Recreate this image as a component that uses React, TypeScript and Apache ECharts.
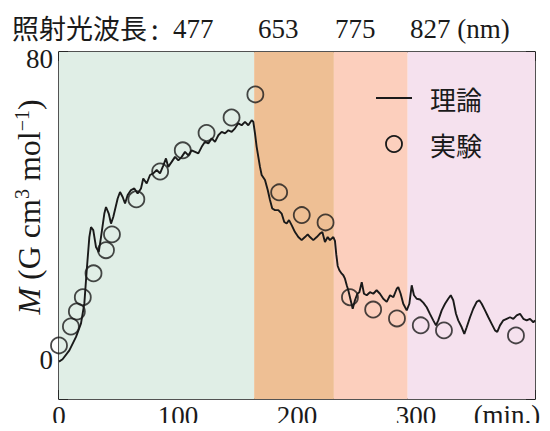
import React, { useEffect, useRef } from "react";
import * as echarts from "echarts";

// Theory curve (time in min., M in G cm^3 mol^-1)
const theoryTime = [
  0, 3, 8.7, 14.3, 18.5, 21.3, 23.3, 25.5, 26.9, 28.8, 31.1, 33.4, 35.3, 38.1, 39.5, 41.8, 43.7, 45.6,
  49.3, 51.3, 53.5, 55.5, 57.7, 60.5, 63.3, 66.1, 68.9, 70.8, 73.7, 76.5, 79.2, 82.1, 84.9, 87.7, 89.9,
  91.8, 94.7, 97.5, 100.3, 103.1, 105.9, 108.7, 111.5, 114.3, 117.1, 119.9, 122.7, 125.5, 128.3, 131.1,
  133.9, 136.7, 139.5, 142.3, 145.1, 147.9, 150.7, 153.5, 156.3, 159.1, 161.9, 163.3, 164.7, 166.1,
  167.5, 168.9, 170.3, 173.1, 175.4, 177.3, 179.2, 181.5, 184.3, 187.1, 189.3, 191.3, 193.3, 195.5,
  198.3, 201.1, 203.9, 206.7, 209.0, 210.9, 213.7, 216.6, 219.3, 221.3, 223.5, 225.8, 227.7, 230.5,
  231.9, 233.0, 234.2, 235.6, 237.6, 238.9, 240.3, 241.8, 243.1, 245.1, 246.8, 248.7, 250.7, 252.4,
  254.4, 256.3, 258.6, 261.3, 264.1, 266.9, 269.7, 272.5, 275.4, 278.2, 281.0, 283.8, 285.1, 287.1,
  289.3, 292.2, 294.4, 296.4, 298.3, 300.6, 303.4, 306.1, 309.0, 311.8, 314.5, 316.8, 318.7, 321.6,
  324.4, 327.1, 329.2, 331.3, 333.6, 335.5, 338.4, 340.6, 342.6, 345.4, 348.1, 351.0, 353.2, 355.2,
  358.0, 360.8, 363.6, 366.4, 368.3, 370.6, 373.4, 376.2, 379.0, 381.8, 384.6, 387.4, 390.2, 393.0,
  395.8, 398.6, 400,
];
const theoryM = [
  -0.3, 0.3, 2.6, 6.1, 9.6, 14.8, 23.4, 32.0, 34.6, 33.8, 29.4, 28.1, 32.0, 38.1, 39.8, 38.1, 35.5, 37.2,
  42.0, 43.7, 42.4, 40.7, 42.9, 44.2, 44.6, 43.3, 44.6, 47.2, 45.9, 48.1, 48.5, 49.4, 48.5, 50.6, 52.4,
  50.2, 51.5, 52.8, 51.9, 52.8, 54.1, 53.2, 54.5, 54.1, 53.7, 55.4, 56.7, 56.3, 57.6, 56.7,
  58.4, 59.3, 58.9, 59.7, 59.3, 60.2, 61.5, 61.0, 61.9, 61.0, 62.3, 61.9, 58.9, 55.4,
  52.8, 50.2, 48.1, 46.8, 44.2, 41.6, 39.4, 39.0, 39.0, 38.1, 35.9, 35.5, 36.4, 35.1,
  33.3, 32.0, 31.2, 32.0, 32.7, 32.0, 31.2, 32.0, 32.9, 33.3, 30.7, 32.0, 31.2, 32.0,
  31.0, 27.5, 24.5, 23.4, 22.5, 22.1, 21.2, 19.5, 18.2, 15.6, 13.4, 15.6, 17.3, 17.7,
  20.3, 17.3, 16.9, 17.7, 17.3, 18.2, 17.3, 16.0, 15.2, 16.9, 16.4, 18.6, 19.0, 17.3,
  14.7, 13.0, 14.7, 19.5, 16.9, 16.0, 15.8, 15.0, 13.8, 12.0, 10.4, 9.1, 10.4, 13.0,
  14.7, 16.0, 16.9, 15.6, 12.1, 10.4, 8.6, 6.9, 8.6, 11.2, 13.4, 15.2, 15.6, 14.7,
  13.0, 11.2, 9.5, 7.8, 7.4, 9.1, 10.4, 10.8, 11.2, 10.8, 11.7, 12.1, 10.8, 10.4,
  10.8, 9.9, 10.4,
];

// Experiment points
const expTime = [0, 10, 15, 20, 29, 39.5, 44.5, 65, 85, 104, 124, 145, 165, 185, 204, 224, 244.5, 264, 284, 304, 323.5, 384];
const expM = [3.9, 8.8, 12.7, 16.4, 22.6, 28.6, 32.7, 41.8, 49, 54.5, 59, 63, 69, 43.6, 37.7, 35.8, 16.4, 13.2, 10.9, 9.1, 7.8, 6.5];

// Irradiation wavelength bands (start, end in min.)
const bandStarts = [0, 164, 231, 293];
const bandEnds = [164, 231, 293, 400];
const bandWavelengths = ["477", "653", "775", "827 (nm)"];
const bandColors = ["#e0eee6", "#eebf94", "#fccfbd", "#f5e1ee"];

const xTickLabels = ["0", "100", "200", "300"];
const yTickLabels = ["0", "80"];

const INK = "#1a1a1a";
const SERIF = "Liberation Serif";
const CJK = "Noto Sans CJK JP";

export default function App() {
  const ref = useRef<HTMLDivElement>(null);

  useEffect(() => {
    if (!ref.current) return;
    const chart = echarts.init(ref.current, null, { renderer: "svg" });

    const tickLine = { color: INK, width: 1.5 };
    const theory = theoryTime.map((t, i) => [t, theoryM[i]]);
    const exp = expTime.map((t, i) => [t, expM[i]]);
    const bandX = [173, 258, 335, 410];

    const option: any = {
      animation: false,
      backgroundColor: "#ffffff",
      grid: { left: 59, right: 15, top: 52, bottom: 32, containLabel: false },
      xAxis: [
        {
          type: "value",
          min: 0,
          max: 400,
          interval: 100,
          position: "bottom",
          axisLine: { show: true, onZero: false, lineStyle: tickLine },
          axisTick: { show: true, inside: true, length: 9, lineStyle: tickLine },
          minorTick: { show: true, splitNumber: 4, length: 5, lineStyle: { color: INK, width: 1.3 } },
          splitLine: { show: false },
          axisLabel: {
            formatter: (v: number) => (xTickLabels.includes(String(v)) ? String(v) : ""),
            fontSize: 27,
            fontFamily: SERIF,
            color: INK,
            margin: 3,
          },
        },
        {
          type: "value",
          min: 0,
          max: 400,
          interval: 100,
          position: "top",
          axisLine: { show: true, onZero: false, lineStyle: tickLine },
          axisTick: { show: true, inside: true, length: 9, lineStyle: tickLine },
          minorTick: { show: true, splitNumber: 4, length: 5, lineStyle: { color: INK, width: 1.3 } },
          splitLine: { show: false },
          axisLabel: { show: false },
        },
      ],
      yAxis: [
        {
          type: "value",
          min: -10,
          max: 80,
          interval: 10,
          position: "left",
          axisLine: { show: true, onZero: false, lineStyle: tickLine },
          axisTick: { show: true, inside: true, length: 9, lineStyle: tickLine },
          splitLine: { show: false },
          axisLabel: {
            formatter: (v: number) => {
              const s = String(v);
              if (!yTickLabels.includes(s)) return "";
              return v === 80 ? "{top|" + s + "}" : s;
            },
            fontSize: 27,
            fontFamily: SERIF,
            color: INK,
            margin: 6,
            rich: {
              top: { fontSize: 27, fontFamily: SERIF, color: INK, padding: [14, 0, 0, 0] },
            },
          },
        },
        {
          type: "value",
          min: -10,
          max: 80,
          interval: 10,
          position: "right",
          axisLine: { show: true, onZero: false, lineStyle: tickLine },
          axisTick: { show: true, inside: true, length: 9, lineStyle: tickLine },
          splitLine: { show: false },
          axisLabel: { show: false },
        },
      ],
      series: [
        {
          name: "理論",
          type: "line",
          data: theory,
          showSymbol: false,
          symbol: "none",
          z: 2,
          lineStyle: { color: INK, width: 1.9 },
          markArea: {
            silent: true,
            z: 1,
            data: bandStarts.map((s, i) => [
              { xAxis: s, itemStyle: { color: bandColors[i], opacity: 1 } },
              { xAxis: bandEnds[i] },
            ]),
          },
        },
        {
          name: "実験",
          type: "scatter",
          data: exp,
          symbol: "circle",
          symbolSize: 16,
          clip: false,
          z: 3,
          itemStyle: { color: "rgba(0,0,0,0)", borderColor: INK, borderWidth: 1.8 },
        },
      ],
      graphic: [
        {
          type: "text",
          x: 12,
          y: 27,
          style: { text: "照射光波長", font: `27px "${CJK}"`, fill: INK, verticalAlign: "middle" },
        },
        {
          type: "text",
          x: 151,
          y: 28,
          style: { text: ":", font: `27px "${CJK}"`, fill: INK, verticalAlign: "middle" },
        },
        ...bandWavelengths.map((w, i) => ({
          type: "text",
          x: bandX[i],
          y: 29,
          style: { text: w, font: `27px "${SERIF}"`, fill: INK, verticalAlign: "middle" },
        })),
        {
          type: "line",
          shape: { x1: 376, y1: 98, x2: 412, y2: 98 },
          style: { stroke: INK, lineWidth: 1.8 },
          z: 10,
        },
        {
          type: "text",
          x: 430,
          y: 98,
          z: 10,
          style: { text: "理論", font: `26px "${CJK}"`, fill: INK, verticalAlign: "middle" },
        },
        {
          type: "circle",
          shape: { cx: 394, cy: 144, r: 8 },
          style: { fill: "none", stroke: INK, lineWidth: 1.8 },
          z: 10,
        },
        {
          type: "text",
          x: 430,
          y: 144,
          z: 10,
          style: { text: "実験", font: `26px "${CJK}"`, fill: INK, verticalAlign: "middle" },
        },
        {
          type: "text",
          x: 507,
          y: 415,
          style: { text: "(min.)", font: `27px "${SERIF}"`, fill: INK, align: "center", verticalAlign: "middle" },
        },
        {
          type: "text",
          x: 29,
          y: 207,
          rotation: Math.PI / 2,
          style: {
            text: "{i|M} (G cm{s|3} mol{s|−1})",
            font: `32px "${SERIF}"`,
            fontSize: 32,
            fontFamily: SERIF,
            fill: INK,
            align: "center",
            verticalAlign: "middle",
            lineHeight: 34,
            rich: {
              i: { fontSize: 32, fontFamily: SERIF, fontStyle: "italic", fill: INK, lineHeight: 34 },
              s: { fontSize: 20, fontFamily: SERIF, fill: INK, verticalAlign: "top", lineHeight: 21 },
            },
          },
        },
      ],
    };

    chart.setOption(option);
    return () => chart.dispose();
  }, []);

  return <div ref={ref} style={{ width: 550, height: 431, margin: -8 }} />;
}
